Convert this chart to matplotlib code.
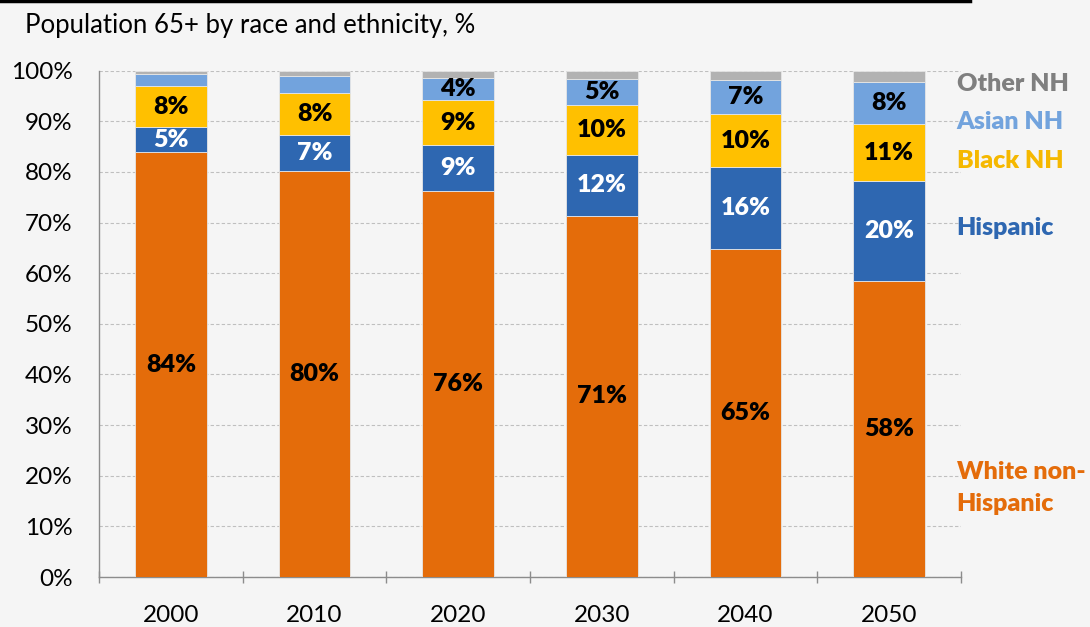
import numpy as np
import matplotlib.pyplot as plt
from matplotlib.lines import Line2D

plt.rcParams['font.family'] = ['Lato', 'DejaVu Sans']

# Population 65+ shares by group, %
years = ['2000', '2010', '2020', '2030', '2040', '2050']
white_nh = [83.9, 80.2, 76.2, 71.4, 64.8, 58.4]
hispanic = [5.0, 7.1, 9.1, 11.9, 16.1, 19.8]
black_nh = [8.0, 8.3, 8.9, 9.9, 10.5, 11.2]
asian_nh = [2.4, 3.3, 4.3, 5.2, 6.8, 8.4]
other_nh = [0.7, 1.1, 1.5, 1.6, 1.8, 2.2]

series = [
    ('White non-\nHispanic', white_nh, '#E46C0A', 'black', True),
    ('Hispanic', hispanic, '#2E67B1', 'white', True),
    ('Black NH', black_nh, '#FFC000', 'black', True),
    ('Asian NH', asian_nh, '#72A3DD', 'black', False),
    ('Other NH', other_nh, '#B2B2B2', 'black', False),
]
legend_colors = ['#E46C0A', '#2E67B1', '#F5B800', '#72A3DD', '#7F7F7F']
legend_y = [17.6, 68.9, 82.1, 89.8, 97.3]

bg = '#F5F5F5'
fig = plt.figure(figsize=(10.9, 6.27), dpi=100, facecolor=bg)
ax = fig.add_axes([99 / 1090, 50 / 627, 862 / 1090, 506.3 / 627], facecolor=bg)

x = np.arange(len(years))
bottom = np.zeros(len(years))
for name, vals, color, tcolor, always in series:
    vals = np.array(vals)
    ax.bar(x, vals, width=0.5, bottom=bottom, color=color,
           edgecolor='#E6E6E6', linewidth=0.6, zorder=3)
    for xi, b, v in zip(x, bottom, vals):
        if always or v >= 4:
            ax.text(xi, b + v / 2, f'{v:.0f}%', ha='center', va='center',
                    color=tcolor, fontsize=18, fontweight='heavy', zorder=4)
    bottom += vals

# group labels to the right of the last bar
for (name, *_), c, ly in zip(series, legend_colors, legend_y):
    ax.text(5.47, ly, name, color=c, fontsize=18, fontweight='heavy',
            ha='left', va='center', linespacing=1.55, clip_on=False)

ax.set_xlim(-0.5, 5.5)
ax.set_ylim(0, 100)
ax.set_yticks(np.arange(0, 101, 10))
ax.set_yticklabels([f'{t}%' for t in range(0, 101, 10)], fontsize=17.5)
ax.set_xticks(x)
ax.set_xticklabels(years, fontsize=17.5)
ax.tick_params(axis='y', length=0, pad=19)
ax.tick_params(axis='x', length=0, pad=20)
ax.set_xticks(np.arange(-0.5, 6, 1), minor=True)
ax.tick_params(axis='x', which='minor', length=9, direction='inout',
               color='#8C8C8C', width=1)
ax.yaxis.grid(True, color='#BFBFBF', linestyle=(0, (3, 2)), linewidth=0.8, zorder=0)
for s in ['top', 'right']:
    ax.spines[s].set_visible(False)
for s in ['left', 'bottom']:
    ax.spines[s].set_color('#8C8C8C')
    ax.spines[s].set_linewidth(1)

fig.text(25 / 1090, 1 - 25 / 627, 'Population 65+ by race and ethnicity, %',
         fontsize=18.5, ha='left', va='center')
fig.add_artist(Line2D([0, 970 / 1090], [0.998, 0.998], color='black', linewidth=2.5))

fig.savefig('out.png', dpi=100, facecolor=bg)
